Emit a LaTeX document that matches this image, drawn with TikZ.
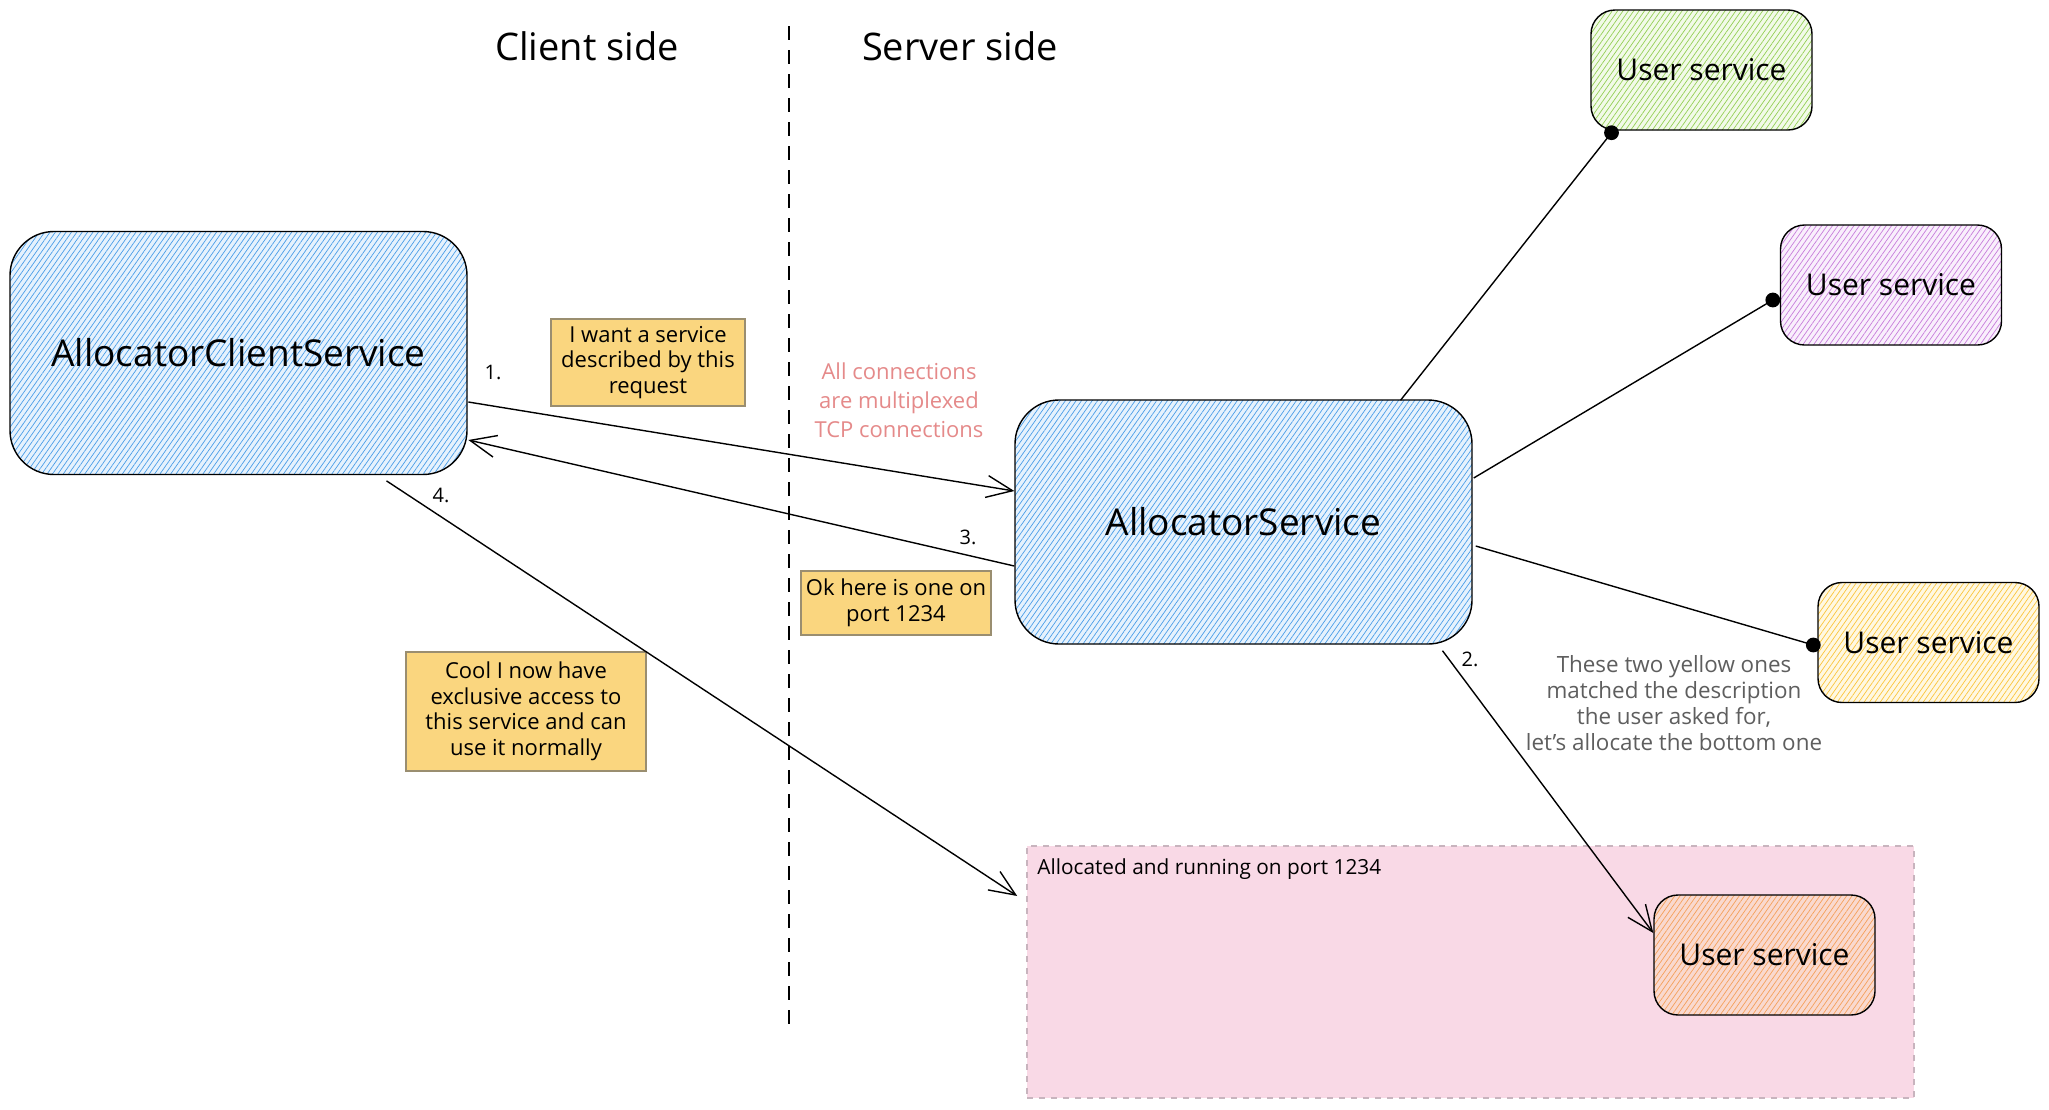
\documentclass[tikz,border=0pt]{standalone}
\usepackage{fontspec}
\setmainfont{Open Sans}
\usetikzlibrary{arrows.meta,patterns.meta,calc}
\definecolor{blueFill}{HTML}{E6F2FD}
\definecolor{blueLine}{HTML}{4A9DE8}
\definecolor{greenFill}{HTML}{F2FAE8}
\definecolor{greenLine}{HTML}{94CF55}
\definecolor{purpleFill}{HTML}{F9EFFC}
\definecolor{purpleLine}{HTML}{C77DDB}
\definecolor{yellowFill}{HTML}{FFF8E2}
\definecolor{yellowLine}{HTML}{FBC53C}
\definecolor{orangeFill}{HTML}{F9D9CF}
\definecolor{orangeLine}{HTML}{F5A05A}
\definecolor{noteFill}{HTML}{FAD67F}
\definecolor{noteBorder}{HTML}{9A8E70}
\definecolor{pinkFill}{HTML}{F9D9E6}
\definecolor{pinkBorder}{HTML}{C8B4BE}
\definecolor{redText}{HTML}{E58A8A}
\definecolor{grayText}{HTML}{5E5E5E}
\tikzset{
  hatch/.style n args={2}{preaction={fill=#1}, pattern={Lines[angle=55,distance=2.2pt,line width=0.35pt]}, pattern color=#2},
  bigbox/.style={draw=black, line width=0.7pt, rounded corners=22pt, minimum width=228.5pt, minimum height=121.5pt, inner sep=0pt, font=\fontsize{18.5}{22}\selectfont},
  usvc/.style={draw=black, line width=0.7pt, rounded corners=12pt, minimum width=110.5pt, minimum height=60pt, inner sep=0pt, font=\fontsize{15}{18}\selectfont},
  note/.style={draw=noteBorder, line width=0.6pt, fill=noteFill, align=center, inner sep=0pt, font=\fontsize{11}{12.75}\selectfont},
  title/.style={font=\fontsize{19}{22}\selectfont},
  numlabel/.style={font=\fontsize{10}{12}\selectfont},
  arr/.style={draw=black, line width=0.7pt, -{Straight Barb[length=13pt,width=11pt,line width=0.7pt]}},
  conn/.style={draw=black, line width=0.7pt},
  dot/.style={fill=black},
}
\begin{document}
\begin{tikzpicture}[x=0.5pt,y=-0.5pt]
\useasboundingbox (0,0) rectangle (2049,1109);
\fill[white] (0,0) rectangle (2049,1109);

% titles and divider
\node[title] (clientside) at (587,46) {Client side};
\node[title] (serverside) at (960,46) {Server side};
\coordinate (divtop) at (789,26);
\coordinate (divbot) at (789,1026);
\draw[line width=1.2pt, dash pattern=on 7pt off 5pt] (divtop) -- (divbot);

% pink region
\node[draw=pinkBorder, fill=pinkFill, dashed, line width=0.8pt, minimum width=443.5pt, minimum height=126pt, inner sep=0pt] (pink) at (1470.5,972) {};
\node[anchor=west, inner sep=0pt, font=\fontsize{10.4}{12}\selectfont] (pinklabel) at (1037,869) {Allocated and running on port 1234};

% main boxes
\node[bigbox, hatch={blueFill}{blueLine}] (client) at (238.5,353) {AllocatorClientService};
\node[bigbox, hatch={blueFill}{blueLine}, minimum height=122pt] (alloc) at (1243.5,522) {AllocatorService};

% user services
\node[usvc, hatch={greenFill}{greenLine}] (green) at (1701.5,70) {User service};
\node[usvc, hatch={purpleFill}{purpleLine}] (purple) at (1891,285) {User service};
\node[usvc, hatch={yellowFill}{yellowLine}] (yellowR) at (1928.5,642.5) {User service};
\node[usvc, hatch={orangeFill}{orangeLine}] (orange) at (1764.5,955) {User service};

% notes
\node[note, minimum width=97pt, minimum height=43.5pt] (note1) at (648,362.5) {I want a service\\described by this\\request};
\node[note, minimum width=95pt, minimum height=32pt] (note2) at (896,603) {Ok here is one on\\port 1234};
\node[note, minimum width=120pt, minimum height=59.5pt] (note3) at (526,711.5) {Cool I now have\\exclusive access to\\this service and can\\use it normally};

% side texts
\node[align=center, text=redText, font=\fontsize{11}{14.5}\selectfont] (tcp) at (899,400) {All connections\\are multiplexed\\TCP connections};
\node[align=center, text=grayText, font=\fontsize{11.2}{13}\selectfont] (yellowtxt) at (1674,703) {These two yellow ones\\matched the description\\the user asked for,\\let's allocate the bottom one};

% step labels
\node[numlabel] (n1) at (493,372) {1.};
\node[numlabel] (n2) at (1470,659) {2.};
\node[numlabel] (n3) at (968,537) {3.};
\node[numlabel] (n4) at (441,495) {4.};

% arrows
\draw[arr] ($(client.east)+(1,49)$) -- ($(alloc.west)+(0,-31)$);
\draw[arr] ($(alloc.west)+(0,44)$) -- ($(client.east)+(1,87)$);
\draw[arr] ($(client.south)+(148,6)$) -- ($(pink.west)+(-9,-76)$);
\draw[arr] ($(alloc.south)+(199,6)$) -- ($(orange.west)+(0,-22)$);

% dot connectors
\coordinate (gdot) at ($(green.south)+(-90,2)$);
\coordinate (pdot) at ($(purple.west)+(-7,15)$);
\coordinate (ydot) at ($(yellowR.west)+(-4,2.5)$);
\draw[conn] ($(alloc.north)+(157,1)$) -- (gdot);
\draw[conn] ($(alloc.east)+(1,-44)$) -- (pdot);
\draw[conn] ($(alloc.east)+(3,24)$) -- (ydot);
\fill[dot] (gdot) circle[radius=3.7pt];
\fill[dot] (pdot) circle[radius=3.7pt];
\fill[dot] (ydot) circle[radius=3.7pt];
\end{tikzpicture}
\end{document}
